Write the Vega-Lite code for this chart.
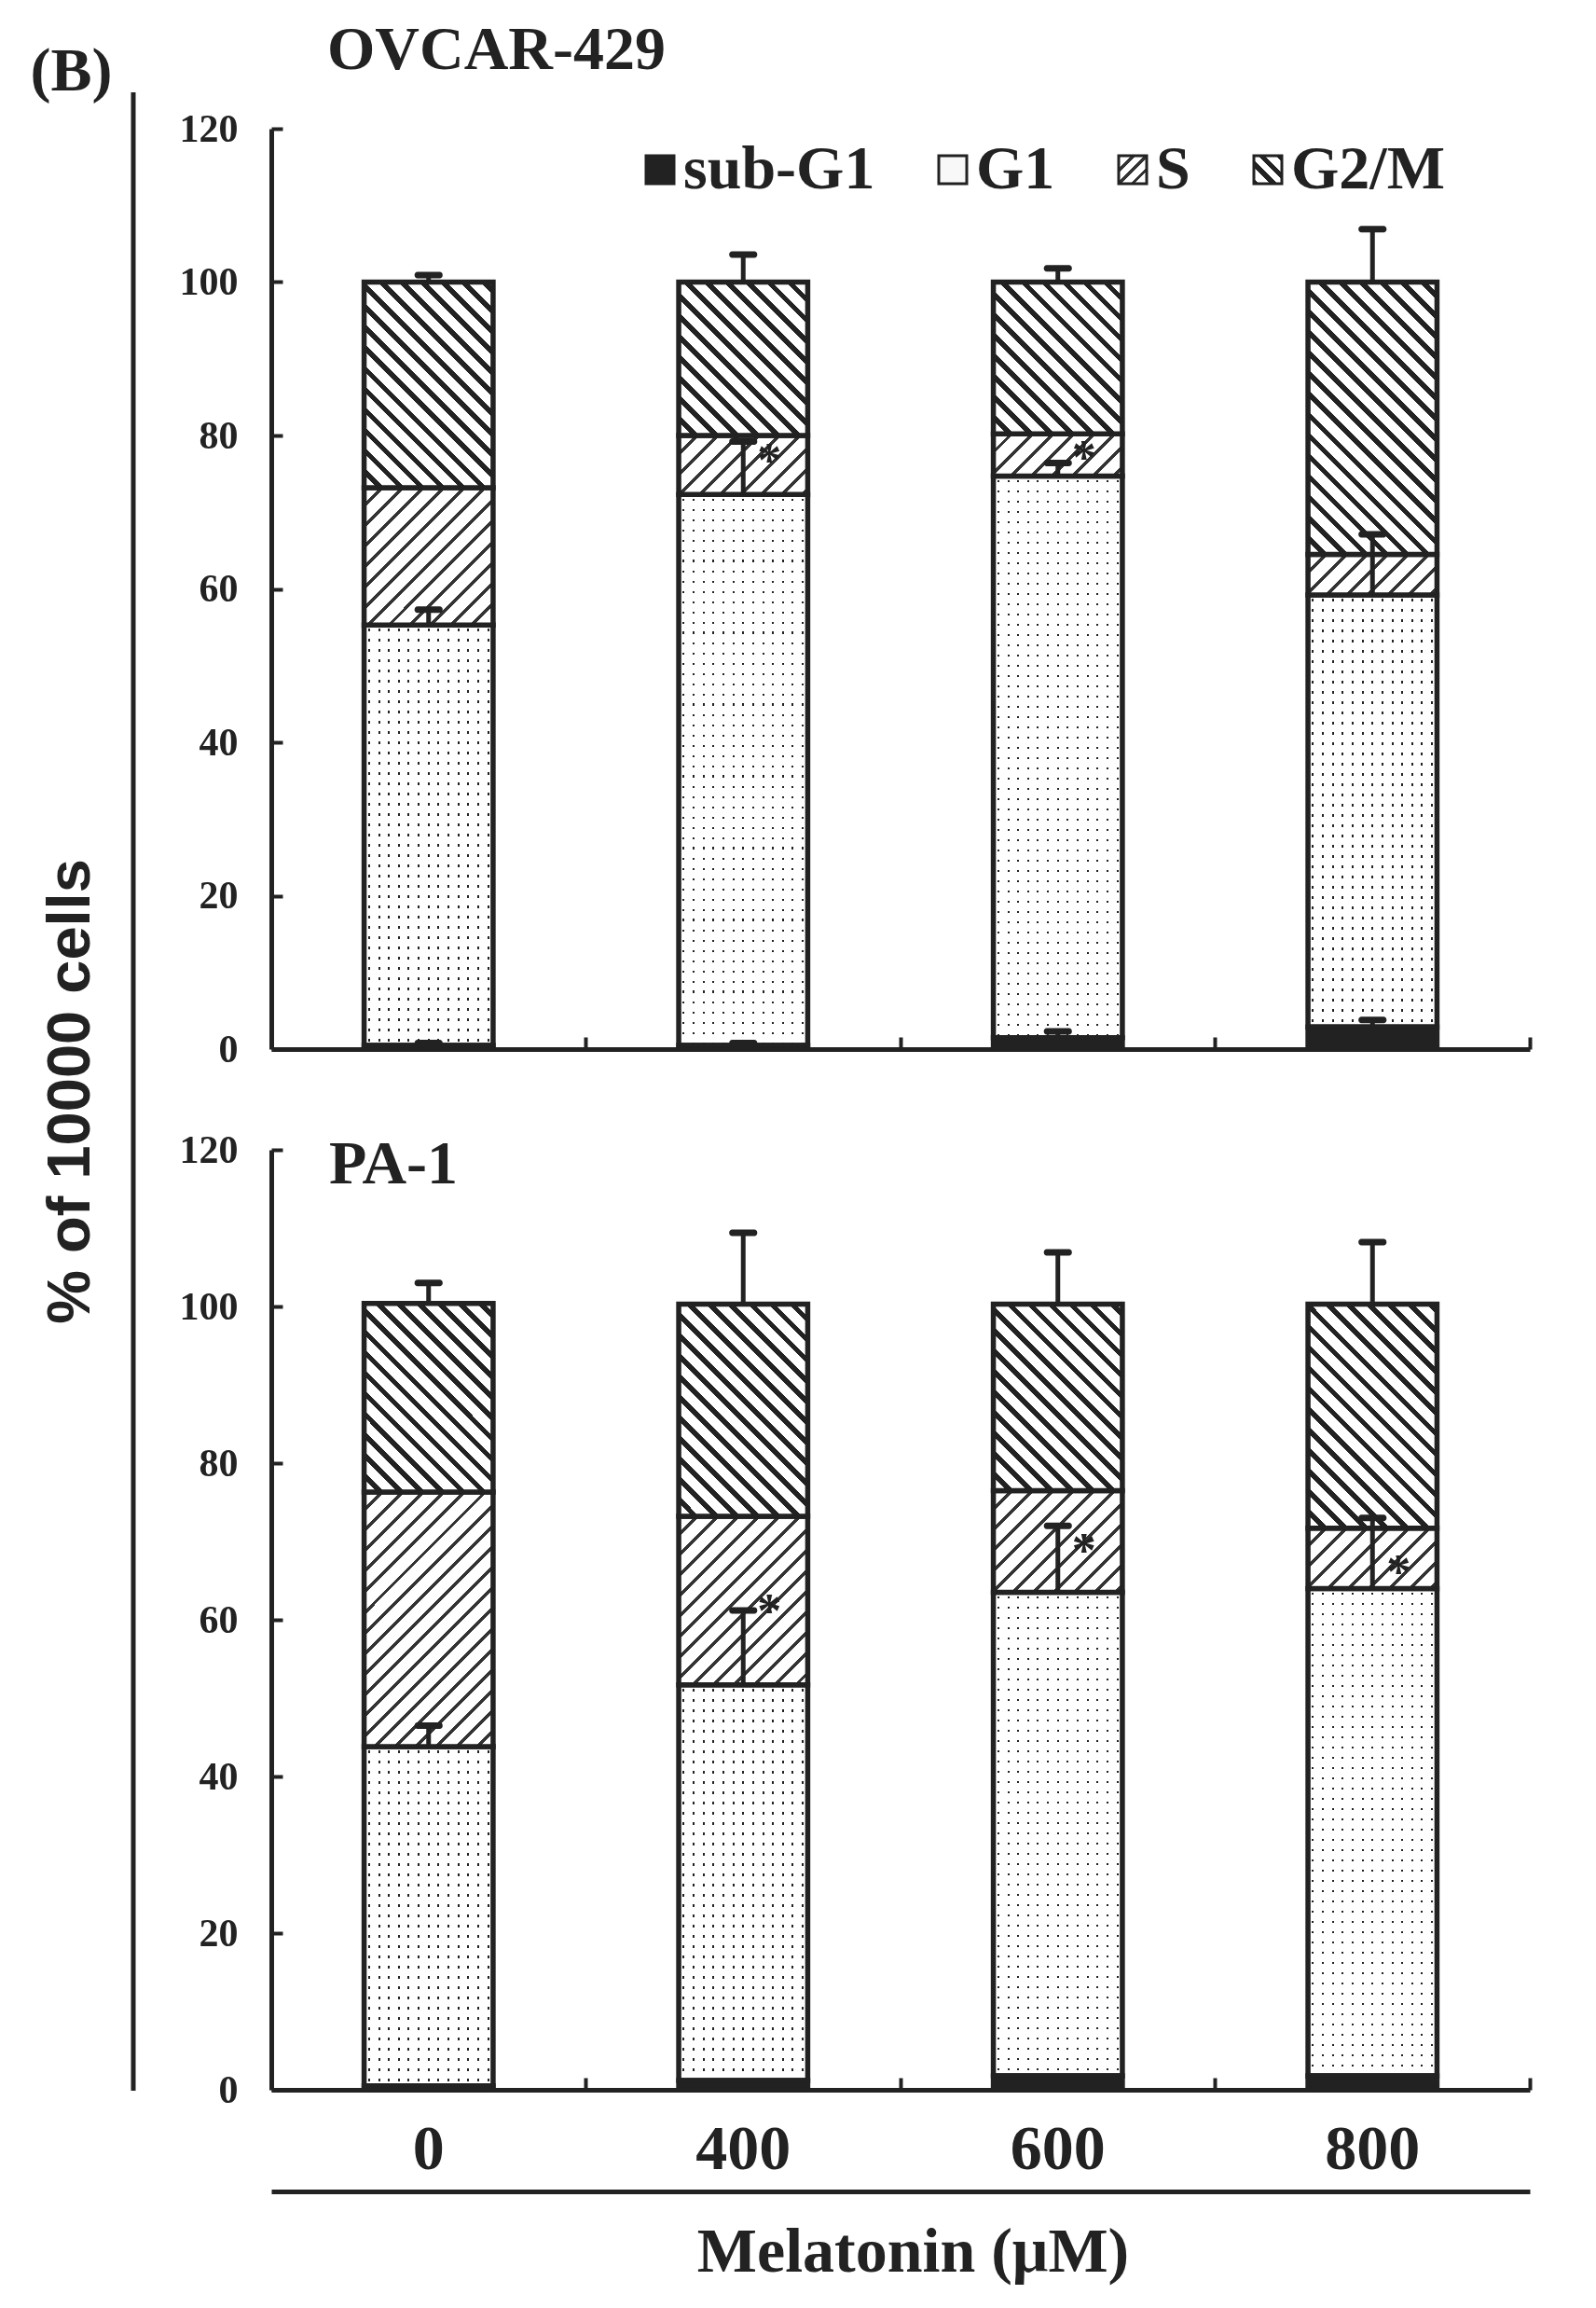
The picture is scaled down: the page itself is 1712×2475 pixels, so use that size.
{
  "$schema": "https://vega.github.io/schema/vega-lite/v6.json",
  "background": "white",
  "padding": {"left": 32, "top": 21, "right": 5, "bottom": 5},
  "config": {
    "view": {"stroke": null},
    "axis": {"grid": false, "domainColor": "#222", "tickColor": "#222", "labelColor": "#222", "titleColor": "#222"}
  },
  "params": [
    {"name": "stopsG", "value": [
      {"offset":0,"color":"#fff"},{"offset":0.026,"color":"#fff"},{"offset":0.026,"color":"#222"},{"offset":0.04,"color":"#222"},
      {"offset":0.04,"color":"#fff"},{"offset":0.066,"color":"#fff"},{"offset":0.066,"color":"#222"},{"offset":0.08,"color":"#222"},
      {"offset":0.08,"color":"#fff"},{"offset":0.106,"color":"#fff"},{"offset":0.106,"color":"#222"},{"offset":0.12,"color":"#222"},
      {"offset":0.12,"color":"#fff"},{"offset":0.146,"color":"#fff"},{"offset":0.146,"color":"#222"},{"offset":0.16,"color":"#222"},
      {"offset":0.16,"color":"#fff"},{"offset":0.186,"color":"#fff"},{"offset":0.186,"color":"#222"},{"offset":0.2,"color":"#222"},
      {"offset":0.2,"color":"#fff"},{"offset":0.226,"color":"#fff"},{"offset":0.226,"color":"#222"},{"offset":0.24,"color":"#222"},
      {"offset":0.24,"color":"#fff"},{"offset":0.266,"color":"#fff"},{"offset":0.266,"color":"#222"},{"offset":0.28,"color":"#222"},
      {"offset":0.28,"color":"#fff"},{"offset":0.306,"color":"#fff"},{"offset":0.306,"color":"#222"},{"offset":0.32,"color":"#222"},
      {"offset":0.32,"color":"#fff"},{"offset":0.346,"color":"#fff"},{"offset":0.346,"color":"#222"},{"offset":0.36,"color":"#222"},
      {"offset":0.36,"color":"#fff"},{"offset":0.386,"color":"#fff"},{"offset":0.386,"color":"#222"},{"offset":0.4,"color":"#222"},
      {"offset":0.4,"color":"#fff"},{"offset":0.426,"color":"#fff"},{"offset":0.426,"color":"#222"},{"offset":0.44,"color":"#222"},
      {"offset":0.44,"color":"#fff"},{"offset":0.466,"color":"#fff"},{"offset":0.466,"color":"#222"},{"offset":0.48,"color":"#222"},
      {"offset":0.48,"color":"#fff"},{"offset":0.506,"color":"#fff"},{"offset":0.506,"color":"#222"},{"offset":0.52,"color":"#222"},
      {"offset":0.52,"color":"#fff"},{"offset":0.546,"color":"#fff"},{"offset":0.546,"color":"#222"},{"offset":0.56,"color":"#222"},
      {"offset":0.56,"color":"#fff"},{"offset":0.586,"color":"#fff"},{"offset":0.586,"color":"#222"},{"offset":0.6,"color":"#222"},
      {"offset":0.6,"color":"#fff"},{"offset":0.626,"color":"#fff"},{"offset":0.626,"color":"#222"},{"offset":0.64,"color":"#222"},
      {"offset":0.64,"color":"#fff"},{"offset":0.666,"color":"#fff"},{"offset":0.666,"color":"#222"},{"offset":0.68,"color":"#222"},
      {"offset":0.68,"color":"#fff"},{"offset":0.706,"color":"#fff"},{"offset":0.706,"color":"#222"},{"offset":0.72,"color":"#222"},
      {"offset":0.72,"color":"#fff"},{"offset":0.746,"color":"#fff"},{"offset":0.746,"color":"#222"},{"offset":0.76,"color":"#222"},
      {"offset":0.76,"color":"#fff"},{"offset":0.786,"color":"#fff"},{"offset":0.786,"color":"#222"},{"offset":0.8,"color":"#222"},
      {"offset":0.8,"color":"#fff"},{"offset":0.826,"color":"#fff"},{"offset":0.826,"color":"#222"},{"offset":0.84,"color":"#222"},
      {"offset":0.84,"color":"#fff"},{"offset":0.866,"color":"#fff"},{"offset":0.866,"color":"#222"},{"offset":0.88,"color":"#222"},
      {"offset":0.88,"color":"#fff"},{"offset":0.906,"color":"#fff"},{"offset":0.906,"color":"#222"},{"offset":0.92,"color":"#222"},
      {"offset":0.92,"color":"#fff"},{"offset":0.946,"color":"#fff"},{"offset":0.946,"color":"#222"},{"offset":0.96,"color":"#222"},
      {"offset":0.96,"color":"#fff"},{"offset":0.986,"color":"#fff"},{"offset":0.986,"color":"#222"},{"offset":1,"color":"#222"}
    ]},
    {"name": "stopsS", "value": [
      {"offset":0,"color":"#fff"},{"offset":0.031,"color":"#fff"},{"offset":0.031,"color":"#333"},{"offset":0.04,"color":"#333"},
      {"offset":0.04,"color":"#fff"},{"offset":0.071,"color":"#fff"},{"offset":0.071,"color":"#333"},{"offset":0.08,"color":"#333"},
      {"offset":0.08,"color":"#fff"},{"offset":0.111,"color":"#fff"},{"offset":0.111,"color":"#333"},{"offset":0.12,"color":"#333"},
      {"offset":0.12,"color":"#fff"},{"offset":0.151,"color":"#fff"},{"offset":0.151,"color":"#333"},{"offset":0.16,"color":"#333"},
      {"offset":0.16,"color":"#fff"},{"offset":0.191,"color":"#fff"},{"offset":0.191,"color":"#333"},{"offset":0.2,"color":"#333"},
      {"offset":0.2,"color":"#fff"},{"offset":0.231,"color":"#fff"},{"offset":0.231,"color":"#333"},{"offset":0.24,"color":"#333"},
      {"offset":0.24,"color":"#fff"},{"offset":0.271,"color":"#fff"},{"offset":0.271,"color":"#333"},{"offset":0.28,"color":"#333"},
      {"offset":0.28,"color":"#fff"},{"offset":0.311,"color":"#fff"},{"offset":0.311,"color":"#333"},{"offset":0.32,"color":"#333"},
      {"offset":0.32,"color":"#fff"},{"offset":0.351,"color":"#fff"},{"offset":0.351,"color":"#333"},{"offset":0.36,"color":"#333"},
      {"offset":0.36,"color":"#fff"},{"offset":0.391,"color":"#fff"},{"offset":0.391,"color":"#333"},{"offset":0.4,"color":"#333"},
      {"offset":0.4,"color":"#fff"},{"offset":0.431,"color":"#fff"},{"offset":0.431,"color":"#333"},{"offset":0.44,"color":"#333"},
      {"offset":0.44,"color":"#fff"},{"offset":0.471,"color":"#fff"},{"offset":0.471,"color":"#333"},{"offset":0.48,"color":"#333"},
      {"offset":0.48,"color":"#fff"},{"offset":0.511,"color":"#fff"},{"offset":0.511,"color":"#333"},{"offset":0.52,"color":"#333"},
      {"offset":0.52,"color":"#fff"},{"offset":0.551,"color":"#fff"},{"offset":0.551,"color":"#333"},{"offset":0.56,"color":"#333"},
      {"offset":0.56,"color":"#fff"},{"offset":0.591,"color":"#fff"},{"offset":0.591,"color":"#333"},{"offset":0.6,"color":"#333"},
      {"offset":0.6,"color":"#fff"},{"offset":0.631,"color":"#fff"},{"offset":0.631,"color":"#333"},{"offset":0.64,"color":"#333"},
      {"offset":0.64,"color":"#fff"},{"offset":0.671,"color":"#fff"},{"offset":0.671,"color":"#333"},{"offset":0.68,"color":"#333"},
      {"offset":0.68,"color":"#fff"},{"offset":0.711,"color":"#fff"},{"offset":0.711,"color":"#333"},{"offset":0.72,"color":"#333"},
      {"offset":0.72,"color":"#fff"},{"offset":0.751,"color":"#fff"},{"offset":0.751,"color":"#333"},{"offset":0.76,"color":"#333"},
      {"offset":0.76,"color":"#fff"},{"offset":0.791,"color":"#fff"},{"offset":0.791,"color":"#333"},{"offset":0.8,"color":"#333"},
      {"offset":0.8,"color":"#fff"},{"offset":0.831,"color":"#fff"},{"offset":0.831,"color":"#333"},{"offset":0.84,"color":"#333"},
      {"offset":0.84,"color":"#fff"},{"offset":0.871,"color":"#fff"},{"offset":0.871,"color":"#333"},{"offset":0.88,"color":"#333"},
      {"offset":0.88,"color":"#fff"},{"offset":0.911,"color":"#fff"},{"offset":0.911,"color":"#333"},{"offset":0.92,"color":"#333"},
      {"offset":0.92,"color":"#fff"},{"offset":0.951,"color":"#fff"},{"offset":0.951,"color":"#333"},{"offset":0.96,"color":"#333"},
      {"offset":0.96,"color":"#fff"},{"offset":0.991,"color":"#fff"},{"offset":0.991,"color":"#333"},{"offset":1,"color":"#333"}
    ]},
    {"name": "dotsV", "value": [
      {"offset":0,"color":"#fff"},
      {"offset":0.0311,"color":"#fff"},{"offset":0.0311,"color":"#222"},{"offset":0.0457,"color":"#222"},{"offset":0.0457,"color":"#fff"},
      {"offset":0.108,"color":"#fff"},{"offset":0.108,"color":"#222"},{"offset":0.1226,"color":"#222"},{"offset":0.1226,"color":"#fff"},
      {"offset":0.1849,"color":"#fff"},{"offset":0.1849,"color":"#222"},{"offset":0.1995,"color":"#222"},{"offset":0.1995,"color":"#fff"},
      {"offset":0.2619,"color":"#fff"},{"offset":0.2619,"color":"#222"},{"offset":0.2765,"color":"#222"},{"offset":0.2765,"color":"#fff"},
      {"offset":0.3388,"color":"#fff"},{"offset":0.3388,"color":"#222"},{"offset":0.3534,"color":"#222"},{"offset":0.3534,"color":"#fff"},
      {"offset":0.4157,"color":"#fff"},{"offset":0.4157,"color":"#222"},{"offset":0.4303,"color":"#222"},{"offset":0.4303,"color":"#fff"},
      {"offset":0.4926,"color":"#fff"},{"offset":0.4926,"color":"#222"},{"offset":0.5072,"color":"#222"},{"offset":0.5072,"color":"#fff"},
      {"offset":0.5696,"color":"#fff"},{"offset":0.5696,"color":"#222"},{"offset":0.5842,"color":"#222"},{"offset":0.5842,"color":"#fff"},
      {"offset":0.6465,"color":"#fff"},{"offset":0.6465,"color":"#222"},{"offset":0.6611,"color":"#222"},{"offset":0.6611,"color":"#fff"},
      {"offset":0.7234,"color":"#fff"},{"offset":0.7234,"color":"#222"},{"offset":0.738,"color":"#222"},{"offset":0.738,"color":"#fff"},
      {"offset":0.8003,"color":"#fff"},{"offset":0.8003,"color":"#222"},{"offset":0.8149,"color":"#222"},{"offset":0.8149,"color":"#fff"},
      {"offset":0.8773,"color":"#fff"},{"offset":0.8773,"color":"#222"},{"offset":0.8919,"color":"#222"},{"offset":0.8919,"color":"#fff"},
      {"offset":0.9542,"color":"#fff"},{"offset":0.9542,"color":"#222"},{"offset":0.9688,"color":"#222"},{"offset":0.9688,"color":"#fff"},
      {"offset":1,"color":"#fff"}
    ]},
    {"name": "dotsH", "value": [
      {"offset":0,"color":"#fff"},
      {"offset":0.0068,"color":"#fff"},{"offset":0.0068,"color":"#222"},{"offset":0.0111,"color":"#222"},{"offset":0.0111,"color":"#fff"},
      {"offset":0.0247,"color":"#fff"},{"offset":0.0247,"color":"#222"},{"offset":0.029,"color":"#222"},{"offset":0.029,"color":"#fff"},
      {"offset":0.0425,"color":"#fff"},{"offset":0.0425,"color":"#222"},{"offset":0.0468,"color":"#222"},{"offset":0.0468,"color":"#fff"},
      {"offset":0.0604,"color":"#fff"},{"offset":0.0604,"color":"#222"},{"offset":0.0647,"color":"#222"},{"offset":0.0647,"color":"#fff"},
      {"offset":0.0782,"color":"#fff"},{"offset":0.0782,"color":"#222"},{"offset":0.0825,"color":"#222"},{"offset":0.0825,"color":"#fff"},
      {"offset":0.0961,"color":"#fff"},{"offset":0.0961,"color":"#222"},{"offset":0.1004,"color":"#222"},{"offset":0.1004,"color":"#fff"},
      {"offset":0.1139,"color":"#fff"},{"offset":0.1139,"color":"#222"},{"offset":0.1182,"color":"#222"},{"offset":0.1182,"color":"#fff"},
      {"offset":0.1318,"color":"#fff"},{"offset":0.1318,"color":"#222"},{"offset":0.1361,"color":"#222"},{"offset":0.1361,"color":"#fff"},
      {"offset":0.1497,"color":"#fff"},{"offset":0.1497,"color":"#222"},{"offset":0.154,"color":"#222"},{"offset":0.154,"color":"#fff"},
      {"offset":0.1675,"color":"#fff"},{"offset":0.1675,"color":"#222"},{"offset":0.1718,"color":"#222"},{"offset":0.1718,"color":"#fff"},
      {"offset":0.1854,"color":"#fff"},{"offset":0.1854,"color":"#222"},{"offset":0.1897,"color":"#222"},{"offset":0.1897,"color":"#fff"},
      {"offset":0.2032,"color":"#fff"},{"offset":0.2032,"color":"#222"},{"offset":0.2075,"color":"#222"},{"offset":0.2075,"color":"#fff"},
      {"offset":0.2211,"color":"#fff"},{"offset":0.2211,"color":"#222"},{"offset":0.2254,"color":"#222"},{"offset":0.2254,"color":"#fff"},
      {"offset":0.2389,"color":"#fff"},{"offset":0.2389,"color":"#222"},{"offset":0.2432,"color":"#222"},{"offset":0.2432,"color":"#fff"},
      {"offset":0.2568,"color":"#fff"},{"offset":0.2568,"color":"#222"},{"offset":0.2611,"color":"#222"},{"offset":0.2611,"color":"#fff"},
      {"offset":0.2747,"color":"#fff"},{"offset":0.2747,"color":"#222"},{"offset":0.279,"color":"#222"},{"offset":0.279,"color":"#fff"},
      {"offset":0.2925,"color":"#fff"},{"offset":0.2925,"color":"#222"},{"offset":0.2968,"color":"#222"},{"offset":0.2968,"color":"#fff"},
      {"offset":0.3104,"color":"#fff"},{"offset":0.3104,"color":"#222"},{"offset":0.3147,"color":"#222"},{"offset":0.3147,"color":"#fff"},
      {"offset":0.3282,"color":"#fff"},{"offset":0.3282,"color":"#222"},{"offset":0.3325,"color":"#222"},{"offset":0.3325,"color":"#fff"},
      {"offset":0.3461,"color":"#fff"},{"offset":0.3461,"color":"#222"},{"offset":0.3504,"color":"#222"},{"offset":0.3504,"color":"#fff"},
      {"offset":0.3639,"color":"#fff"},{"offset":0.3639,"color":"#222"},{"offset":0.3682,"color":"#222"},{"offset":0.3682,"color":"#fff"},
      {"offset":0.3818,"color":"#fff"},{"offset":0.3818,"color":"#222"},{"offset":0.3861,"color":"#222"},{"offset":0.3861,"color":"#fff"},
      {"offset":0.3997,"color":"#fff"},{"offset":0.3997,"color":"#222"},{"offset":0.404,"color":"#222"},{"offset":0.404,"color":"#fff"},
      {"offset":0.4175,"color":"#fff"},{"offset":0.4175,"color":"#222"},{"offset":0.4218,"color":"#222"},{"offset":0.4218,"color":"#fff"},
      {"offset":0.4354,"color":"#fff"},{"offset":0.4354,"color":"#222"},{"offset":0.4397,"color":"#222"},{"offset":0.4397,"color":"#fff"},
      {"offset":0.4532,"color":"#fff"},{"offset":0.4532,"color":"#222"},{"offset":0.4575,"color":"#222"},{"offset":0.4575,"color":"#fff"},
      {"offset":0.4711,"color":"#fff"},{"offset":0.4711,"color":"#222"},{"offset":0.4754,"color":"#222"},{"offset":0.4754,"color":"#fff"},
      {"offset":0.4889,"color":"#fff"},{"offset":0.4889,"color":"#222"},{"offset":0.4932,"color":"#222"},{"offset":0.4932,"color":"#fff"},
      {"offset":0.5068,"color":"#fff"},{"offset":0.5068,"color":"#222"},{"offset":0.5111,"color":"#222"},{"offset":0.5111,"color":"#fff"},
      {"offset":0.5247,"color":"#fff"},{"offset":0.5247,"color":"#222"},{"offset":0.529,"color":"#222"},{"offset":0.529,"color":"#fff"},
      {"offset":0.5425,"color":"#fff"},{"offset":0.5425,"color":"#222"},{"offset":0.5468,"color":"#222"},{"offset":0.5468,"color":"#fff"},
      {"offset":0.5604,"color":"#fff"},{"offset":0.5604,"color":"#222"},{"offset":0.5647,"color":"#222"},{"offset":0.5647,"color":"#fff"},
      {"offset":0.5782,"color":"#fff"},{"offset":0.5782,"color":"#222"},{"offset":0.5825,"color":"#222"},{"offset":0.5825,"color":"#fff"},
      {"offset":0.5961,"color":"#fff"},{"offset":0.5961,"color":"#222"},{"offset":0.6004,"color":"#222"},{"offset":0.6004,"color":"#fff"},
      {"offset":0.6139,"color":"#fff"},{"offset":0.6139,"color":"#222"},{"offset":0.6182,"color":"#222"},{"offset":0.6182,"color":"#fff"},
      {"offset":0.6318,"color":"#fff"},{"offset":0.6318,"color":"#222"},{"offset":0.6361,"color":"#222"},{"offset":0.6361,"color":"#fff"},
      {"offset":0.6497,"color":"#fff"},{"offset":0.6497,"color":"#222"},{"offset":0.654,"color":"#222"},{"offset":0.654,"color":"#fff"},
      {"offset":0.6675,"color":"#fff"},{"offset":0.6675,"color":"#222"},{"offset":0.6718,"color":"#222"},{"offset":0.6718,"color":"#fff"},
      {"offset":0.6854,"color":"#fff"},{"offset":0.6854,"color":"#222"},{"offset":0.6897,"color":"#222"},{"offset":0.6897,"color":"#fff"},
      {"offset":0.7032,"color":"#fff"},{"offset":0.7032,"color":"#222"},{"offset":0.7075,"color":"#222"},{"offset":0.7075,"color":"#fff"},
      {"offset":0.7211,"color":"#fff"},{"offset":0.7211,"color":"#222"},{"offset":0.7254,"color":"#222"},{"offset":0.7254,"color":"#fff"},
      {"offset":0.7389,"color":"#fff"},{"offset":0.7389,"color":"#222"},{"offset":0.7432,"color":"#222"},{"offset":0.7432,"color":"#fff"},
      {"offset":0.7568,"color":"#fff"},{"offset":0.7568,"color":"#222"},{"offset":0.7611,"color":"#222"},{"offset":0.7611,"color":"#fff"},
      {"offset":0.7747,"color":"#fff"},{"offset":0.7747,"color":"#222"},{"offset":0.779,"color":"#222"},{"offset":0.779,"color":"#fff"},
      {"offset":0.7925,"color":"#fff"},{"offset":0.7925,"color":"#222"},{"offset":0.7968,"color":"#222"},{"offset":0.7968,"color":"#fff"},
      {"offset":0.8104,"color":"#fff"},{"offset":0.8104,"color":"#222"},{"offset":0.8147,"color":"#222"},{"offset":0.8147,"color":"#fff"},
      {"offset":0.8282,"color":"#fff"},{"offset":0.8282,"color":"#222"},{"offset":0.8325,"color":"#222"},{"offset":0.8325,"color":"#fff"},
      {"offset":0.8461,"color":"#fff"},{"offset":0.8461,"color":"#222"},{"offset":0.8504,"color":"#222"},{"offset":0.8504,"color":"#fff"},
      {"offset":0.8639,"color":"#fff"},{"offset":0.8639,"color":"#222"},{"offset":0.8682,"color":"#222"},{"offset":0.8682,"color":"#fff"},
      {"offset":0.8818,"color":"#fff"},{"offset":0.8818,"color":"#222"},{"offset":0.8861,"color":"#222"},{"offset":0.8861,"color":"#fff"},
      {"offset":0.8997,"color":"#fff"},{"offset":0.8997,"color":"#222"},{"offset":0.904,"color":"#222"},{"offset":0.904,"color":"#fff"},
      {"offset":0.9175,"color":"#fff"},{"offset":0.9175,"color":"#222"},{"offset":0.9218,"color":"#222"},{"offset":0.9218,"color":"#fff"},
      {"offset":0.9354,"color":"#fff"},{"offset":0.9354,"color":"#222"},{"offset":0.9397,"color":"#222"},{"offset":0.9397,"color":"#fff"},
      {"offset":0.9532,"color":"#fff"},{"offset":0.9532,"color":"#222"},{"offset":0.9575,"color":"#222"},{"offset":0.9575,"color":"#fff"},
      {"offset":0.9711,"color":"#fff"},{"offset":0.9711,"color":"#222"},{"offset":0.9754,"color":"#222"},{"offset":0.9754,"color":"#fff"},
      {"offset":0.9889,"color":"#fff"},{"offset":0.9889,"color":"#222"},{"offset":0.9932,"color":"#222"},{"offset":0.9932,"color":"#fff"},
      {"offset":1,"color":"#fff"}
    ]},
    {"name": "lgG", "value": [
      {"offset":0,"color":"#222"},{"offset":0.1,"color":"#222"},{"offset":0.1,"color":"#fff"},{"offset":0.3,"color":"#fff"},
      {"offset":0.3,"color":"#222"},{"offset":0.42,"color":"#222"},{"offset":0.42,"color":"#fff"},{"offset":0.58,"color":"#fff"},
      {"offset":0.58,"color":"#222"},{"offset":0.7,"color":"#222"},{"offset":0.7,"color":"#fff"},{"offset":0.9,"color":"#fff"},
      {"offset":0.9,"color":"#222"},{"offset":1,"color":"#222"}
    ]},
    {"name": "lgS", "value": [
      {"offset":0,"color":"#fff"},{"offset":0.22,"color":"#fff"},{"offset":0.22,"color":"#333"},{"offset":0.3,"color":"#333"},
      {"offset":0.3,"color":"#fff"},{"offset":0.46,"color":"#fff"},{"offset":0.46,"color":"#333"},{"offset":0.54,"color":"#333"},
      {"offset":0.54,"color":"#fff"},{"offset":0.7,"color":"#fff"},{"offset":0.7,"color":"#333"},{"offset":0.78,"color":"#333"},
      {"offset":0.78,"color":"#fff"},{"offset":1,"color":"#fff"}
    ]}
  ],
  "datasets": {
    "ovcar": [
      {"dose":"0","phase":"sub-G1","order":1,"pct":0.5,"cap":0.8},
      {"dose":"0","phase":"G1","order":2,"pct":54.8,"cap":57.3},
      {"dose":"0","phase":"S","order":3,"pct":17.9},
      {"dose":"0","phase":"G2/M","order":4,"pct":26.8,"cap":100.9},
      {"dose":"400","phase":"sub-G1","order":1,"pct":0.5,"cap":0.8},
      {"dose":"400","phase":"G1","order":2,"pct":71.8,"cap":79.2,"star_y":78.2},
      {"dose":"400","phase":"S","order":3,"pct":7.7},
      {"dose":"400","phase":"G2/M","order":4,"pct":20.0,"cap":103.6},
      {"dose":"600","phase":"sub-G1","order":1,"pct":1.5,"cap":2.3},
      {"dose":"600","phase":"G1","order":2,"pct":73.2,"cap":76.4,"star_y":78.5},
      {"dose":"600","phase":"S","order":3,"pct":5.5},
      {"dose":"600","phase":"G2/M","order":4,"pct":19.8,"cap":101.8},
      {"dose":"800","phase":"sub-G1","order":1,"pct":2.9,"cap":3.8},
      {"dose":"800","phase":"G1","order":2,"pct":56.3,"cap":67.1},
      {"dose":"800","phase":"S","order":3,"pct":5.3},
      {"dose":"800","phase":"G2/M","order":4,"pct":35.5,"cap":106.9}
    ],
    "pa1": [
      {"dose":"0","phase":"sub-G1","order":1,"pct":0.5},
      {"dose":"0","phase":"G1","order":2,"pct":43.3,"cap":46.5},
      {"dose":"0","phase":"S","order":3,"pct":32.5},
      {"dose":"0","phase":"G2/M","order":4,"pct":24.1,"cap":103.0},
      {"dose":"400","phase":"sub-G1","order":1,"pct":1.2},
      {"dose":"400","phase":"G1","order":2,"pct":50.5,"cap":61.2,"star_y":62.5},
      {"dose":"400","phase":"S","order":3,"pct":21.5},
      {"dose":"400","phase":"G2/M","order":4,"pct":27.1,"cap":109.4},
      {"dose":"600","phase":"sub-G1","order":1,"pct":1.8},
      {"dose":"600","phase":"G1","order":2,"pct":61.7,"cap":72.0,"star_y":70.2},
      {"dose":"600","phase":"S","order":3,"pct":13.0},
      {"dose":"600","phase":"G2/M","order":4,"pct":23.8,"cap":106.9},
      {"dose":"800","phase":"sub-G1","order":1,"pct":1.8},
      {"dose":"800","phase":"G1","order":2,"pct":62.2,"cap":73.0,"star_y":67.5},
      {"dose":"800","phase":"S","order":3,"pct":7.7},
      {"dose":"800","phase":"G2/M","order":4,"pct":28.6,"cap":108.2}
    ]
  },
  "resolve": {"scale": {"fill": "independent"}, "legend": {"fill": "independent"}},
  "spacing": 6,
  "hconcat": [
    {
      "width": 1,
      "height": 2143,
      "data": {"name": "ovcar"},
      "title": {"text": "(B)", "fontSize": 66, "font": "Liberation Serif", "fontWeight": "bold", "color": "#222", "anchor": "middle", "frame": "group", "dx": -106, "baseline": "alphabetic", "offset": -25},
      "mark": {"type": "point", "opacity": 0},
      "encoding": {
        "y": {"field": "pct", "type": "quantitative", "scale": {"domain": [0, 100]},
          "axis": {"domain": true, "domainWidth": 5, "ticks": false, "labels": false, "grid": false, "translate": -39,
            "title": "% of 10000 cells", "titleFont": "Liberation Sans", "titleFontSize": 65, "titleFontWeight": "bold", "titlePadding": 33}}
      }
    },
    {
      "bounds": "flush",
      "spacing": 108,
      "resolve": {"scale": {"fill": "independent"}, "legend": {"fill": "independent"}},
      "vconcat": [
        {
          "width": 1350,
          "height": 987,
          "data": {"name": "ovcar"},
          "transform": [{"stack": "pct", "groupby": ["dose"], "sort": [{"field": "order", "order": "ascending"}], "as": ["lo", "hi"]}],
          "title": {"text": "OVCAR-429", "anchor": "start", "frame": "group", "dx": 60, "fontSize": 66, "font": "Liberation Serif", "fontWeight": "bold", "color": "#222", "baseline": "alphabetic", "offset": -23},
          "encoding": {
            "x": {"field": "dose", "type": "ordinal", "scale": {"domain": ["0", "400", "600", "800"], "paddingInner": 0, "paddingOuter": 0},
              "axis": {"title": null, "labels": false, "domainWidth": 5, "tickSize": -13, "tickWidth": 4, "bandPosition": 1}},
            "y": {"field": "lo", "type": "quantitative", "scale": {"domain": [0, 120], "nice": false},
              "axis": {"values": [0, 20, 40, 60, 80, 100, 120], "title": null, "domainWidth": 5, "tickSize": -12, "tickWidth": 4,
                "labelFont": "Liberation Serif", "labelFontSize": 42, "labelFontWeight": "bold", "labelPadding": 48}}
          },
          "layer": [
            {
              "mark": {"type": "bar", "width": {"band": 0.41}},
              "encoding": {
                "y2": {"field": "hi"},
                "fill": {"field": "phase", "type": "nominal",
                  "scale": {"domain": ["sub-G1", "G1", "S", "G2/M"], "range": ["#222", "#f8f8f8",
                    {"expr": "{gradient: 'linear', x1: 0, y1: 0, x2: 1, y2: 1, stops: lgS}"},
                    {"expr": "{gradient: 'linear', x1: 0, y1: 1, x2: 1, y2: 0, stops: lgG}"}]},
                  "legend": {"orient": "none", "legendX": 384, "legendY": 11, "direction": "horizontal", "title": null, "padding": 0,
                    "symbolType": "square", "symbolSize": 900, "symbolStrokeWidth": 3, "symbolStrokeColor": "#222", "symbolOpacity": 1,
                    "labelFont": "Liberation Serif", "labelFontSize": 66, "labelFontWeight": "bold", "labelColor": "#222",
                    "labelOffset": -8, "columnPadding": 50, "labelLimit": 400,
                    "encode": {"symbols": {"update": {"stroke": {"value": "#222"}, "strokeWidth": {"value": 3}}}}}
                }
              }
            },
            {
              "transform": [{"filter": "datum.phase === 'G1'"}],
              "mark": {"type": "bar", "width": {"band": 0.41}, "fill": {"expr": "{gradient: 'linear', x1: 0, y1: 0, x2: 1, y2: 0, stops: dotsV}"}},
              "encoding": {"y2": {"field": "hi"}}
            },
            {
              "transform": [{"filter": "datum.phase === 'G1'"}],
              "mark": {"type": "bar", "width": {"band": 0.41}, "blend": "lighten", "fill": {"expr": "{gradient: 'linear', x1: 0, y1: 0, x2: 0, y2: 616/((datum.hi - datum.lo)*8.225), stops: dotsH}"}},
              "encoding": {"y2": {"field": "hi"}}
            },
            {
              "mark": {"type": "bar", "width": {"band": 0.41}, "strokeWidth": 5.5, "strokeJoin": "miter", "stroke": "#222",
                "fill": {"expr": "datum.phase === 'sub-G1' ? '#222' : datum.phase === 'G1' ? 'transparent' : {gradient: 'linear', x1: 0, y1: (datum.phase === 'S' ? 0 : 1), x2: 76328/(19155 + pow((datum.hi - datum.lo)*8.225, 2)), y2: (datum.phase === 'S' ? 551.5*(datum.hi - datum.lo)*8.225/(19155 + pow((datum.hi - datum.lo)*8.225, 2)) : 1 - 551.5*(datum.hi - datum.lo)*8.225/(19155 + pow((datum.hi - datum.lo)*8.225, 2))), stops: (datum.phase === 'S' ? stopsS : stopsG)}"}},
              "encoding": {"y2": {"field": "hi"}}
            },
            {
              "transform": [{"filter": "datum.cap != null"}],
              "mark": {"type": "rule", "strokeWidth": 5, "color": "#222"},
              "encoding": {"y": {"field": "hi", "type": "quantitative"}, "y2": {"field": "cap"}}
            },
            {
              "transform": [{"filter": "datum.cap != null"}],
              "mark": {"type": "tick", "thickness": 7, "size": 30, "color": "#222", "opacity": 1, "cornerRadius": 3},
              "encoding": {"y": {"field": "cap", "type": "quantitative"}}
            },
            {
              "transform": [{"filter": "datum.star_y != null"}],
              "mark": {"type": "text", "text": "*", "fontSize": 52, "font": "Liberation Serif", "fontWeight": "bold", "dx": 28, "dy": 13, "color": "#222"},
              "encoding": {"y": {"field": "star_y", "type": "quantitative"}}
            }
          ]
        },
        {
          "width": 1350,
          "height": 1008,
          "data": {"name": "pa1"},
          "transform": [{"stack": "pct", "groupby": ["dose"], "sort": [{"field": "order", "order": "ascending"}], "as": ["lo", "hi"]}],
          "title": {"text": "PA-1", "anchor": "start", "frame": "group", "dx": 62, "fontSize": 66, "font": "Liberation Serif", "fontWeight": "bold", "color": "#222", "baseline": "alphabetic", "offset": -123},
          "encoding": {
            "x": {"field": "dose", "type": "ordinal", "scale": {"domain": ["0", "400", "600", "800"], "paddingInner": 0, "paddingOuter": 0},
              "axis": {"title": null, "labelAngle": 0, "labelFont": "Liberation Serif", "labelFontSize": 68, "labelFontWeight": "bold", "labelPadding": 43,
                "domainWidth": 5, "tickSize": -13, "tickWidth": 4, "bandPosition": 1}},
            "y": {"field": "lo", "type": "quantitative", "scale": {"domain": [0, 120], "nice": false},
              "axis": {"values": [0, 20, 40, 60, 80, 100, 120], "title": null, "domainWidth": 5, "tickSize": -12, "tickWidth": 4,
                "labelFont": "Liberation Serif", "labelFontSize": 42, "labelFontWeight": "bold", "labelPadding": 48}}
          },
          "layer": [
            {
              "transform": [{"filter": "datum.phase === 'G1'"}],
              "mark": {"type": "bar", "width": {"band": 0.41}, "fill": {"expr": "{gradient: 'linear', x1: 0, y1: 0, x2: 1, y2: 0, stops: dotsV}"}},
              "encoding": {"y2": {"field": "hi"}}
            },
            {
              "transform": [{"filter": "datum.phase === 'G1'"}],
              "mark": {"type": "bar", "width": {"band": 0.41}, "blend": "lighten", "fill": {"expr": "{gradient: 'linear', x1: 0, y1: 0, x2: 0, y2: 616/((datum.hi - datum.lo)*8.4), stops: dotsH}"}},
              "encoding": {"y2": {"field": "hi"}}
            },
            {
              "mark": {"type": "bar", "width": {"band": 0.41}, "strokeWidth": 5.5, "strokeJoin": "miter", "stroke": "#222",
                "fill": {"expr": "datum.phase === 'sub-G1' ? '#222' : datum.phase === 'G1' ? 'transparent' : {gradient: 'linear', x1: 0, y1: (datum.phase === 'S' ? 0 : 1), x2: 76328/(19155 + pow((datum.hi - datum.lo)*8.4, 2)), y2: (datum.phase === 'S' ? 551.5*(datum.hi - datum.lo)*8.4/(19155 + pow((datum.hi - datum.lo)*8.4, 2)) : 1 - 551.5*(datum.hi - datum.lo)*8.4/(19155 + pow((datum.hi - datum.lo)*8.4, 2))), stops: (datum.phase === 'S' ? stopsS : stopsG)}"}},
              "encoding": {"y2": {"field": "hi"}}
            },
            {
              "transform": [{"filter": "datum.cap != null"}],
              "mark": {"type": "rule", "strokeWidth": 5, "color": "#222"},
              "encoding": {"y": {"field": "hi", "type": "quantitative"}, "y2": {"field": "cap"}}
            },
            {
              "transform": [{"filter": "datum.cap != null"}],
              "mark": {"type": "tick", "thickness": 7, "size": 30, "color": "#222", "opacity": 1, "cornerRadius": 3},
              "encoding": {"y": {"field": "cap", "type": "quantitative"}}
            },
            {
              "transform": [{"filter": "datum.star_y != null"}],
              "mark": {"type": "text", "text": "*", "fontSize": 52, "font": "Liberation Serif", "fontWeight": "bold", "dx": 28, "dy": 13, "color": "#222"},
              "encoding": {"y": {"field": "star_y", "type": "quantitative"}}
            }
          ]
        },
        {
          "width": 1350,
          "height": 1,
          "data": {"name": "pa1"},
          "mark": {"type": "point", "opacity": 0},
          "encoding": {
            "x": {"field": "dose", "type": "ordinal", "scale": {"domain": ["0", "400", "600", "800"]},
              "axis": {"domain": true, "domainWidth": 5, "ticks": false, "labels": false,
                "title": "Melatonin (μM)", "titleX": 688, "titleFont": "Liberation Serif", "titleFontSize": 68, "titleFontWeight": "bold", "titlePadding": 31}}
          }
        }
      ]
    }
  ]
}
